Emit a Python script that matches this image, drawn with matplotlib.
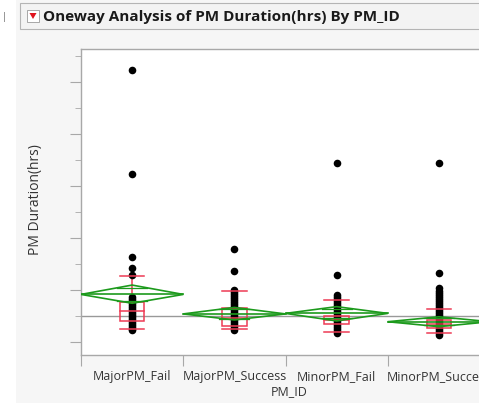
import matplotlib
matplotlib.use("Agg")
import matplotlib.pyplot as plt
from matplotlib.patches import Rectangle, Polygon
import numpy as np

plt.rcParams['font.family'] = ['Open Sans', 'DejaVu Sans']

categories = ["MajorPM_Fail", "MajorPM_Success", "MinorPM_Fail", "MinorPM_Success"]

major_fail = [10.46, 6.46, 3.27, 2.85, 2.58, 1.74, 1.66, 1.58, 1.50, 1.42, 1.35, 1.27,
              1.19, 1.12, 1.04, 0.96, 0.88, 0.81, 0.73, 0.65, 0.58, 0.50, 0.46]
major_success = [3.58, 2.74, 2.00, 1.92, 1.85, 1.77, 1.69, 1.62, 1.54, 1.46, 1.38, 1.31,
                 1.23, 1.15, 1.08, 1.00, 0.92, 0.85, 0.77, 0.69, 0.62, 0.54, 0.46]
minor_fail = [6.90, 2.56, 1.81, 1.73, 1.65, 1.58, 1.50, 1.42, 1.35, 1.27, 1.19, 1.12,
              1.04, 0.96, 0.88, 0.81, 0.73, 0.65, 0.58, 0.50, 0.42, 0.35]
minor_success = [6.88, 2.65, 2.08, 1.96, 1.88, 1.81, 1.73, 1.65, 1.58, 1.50, 1.42, 1.35,
                 1.27, 1.19, 1.12, 1.04, 0.96, 0.88, 0.81, 0.73, 0.65, 0.58, 0.50,
                 0.42, 0.35, 0.27]
group_points = [major_fail, major_success, minor_fail, minor_success]

box_q1 = [0.82, 0.63, 0.68, 0.55]
box_med = [1.20, 0.92, 0.85, 0.69]
box_q3 = [1.55, 1.32, 1.01, 0.85]
whisk_lo = [0.49, 0.49, 0.37, 0.33]
whisk_hi = [2.55, 1.96, 1.62, 1.27]
means = [1.83, 1.08, 1.10, 0.78]
ci_lo = [1.49, 0.85, 0.81, 0.59]
ci_hi = [2.19, 1.33, 1.36, 0.97]
grand_mean = 1.0

W, H = 479, 403
fig = plt.figure(figsize=(W / 100, H / 100), dpi=100)
fig.patch.set_facecolor('#f6f6f6')
# white strip on the far left
fig.add_artist(Rectangle((0, 0), 16 / W, 1, transform=fig.transFigure,
                         facecolor='white', edgecolor='none', zorder=0))
# title bar
fig.add_artist(Rectangle((20 / W, 1 - 29 / H), 470 / W, 26 / H, transform=fig.transFigure,
                         facecolor='#f3f3f3', edgecolor='#b4b4b4', lw=0.8, zorder=1))
fig.add_artist(Rectangle((27 / W, 1 - 22 / H), 12 / W, 12 / H, transform=fig.transFigure,
                         facecolor='white', edgecolor='#9a9a9a', lw=0.6, zorder=2))
fig.add_artist(Polygon([[29.5 / W, 1 - 13 / H], [36.5 / W, 1 - 13 / H], [33 / W, 1 - 19 / H]],
                       closed=True, transform=fig.transFigure, facecolor='#e0141e',
                       edgecolor='none', zorder=3))
fig.text(43 / W, 1 - 16.5 / H, "Oneway Analysis of PM Duration(hrs) By PM_ID",
         fontsize=11, fontweight='bold', color='#1a1a1a', va='center', ha='left')
fig.add_artist(Rectangle((4 / W, 1 - 22 / H), 1.2 / W, 10 / H, transform=fig.transFigure,
                         facecolor='#999999', edgecolor='none', zorder=2))

left, right, top, bottom = 81, 490, 49, 355
ax = fig.add_axes([left / W, 1 - bottom / H, (right - left) / W, (bottom - top) / H])
ax.set_facecolor('white')
ax.set_xlim(-0.5, 3.5)
ax.set_ylim(-0.5, 11.27)

gray = '#a8a8a8'
for s in ['left', 'bottom', 'top']:
    ax.spines[s].set_color(gray)
    ax.spines[s].set_linewidth(1.0)
ax.spines['right'].set_visible(False)

ax.set_yticks(np.arange(0, 11, 2))
ax.set_yticks(np.arange(1, 12, 2), minor=True)
ax.tick_params(axis='y', which='major', length=8, color=gray, labelleft=False)
ax.tick_params(axis='y', which='minor', length=4, color=gray)

ax.set_xticks([-0.5, 0.5, 1.5, 2.5])
ax.set_xticks(range(len(categories)), minor=True)
ax.set_xticklabels(categories, minor=True)
ax.tick_params(axis='x', which='major', length=8, color=gray, labelbottom=False)
ax.tick_params(axis='x', which='minor', length=0, pad=11, labelsize=9, labelcolor='#333333')

ax.axhline(grand_mean, color='#999999', lw=1.0, zorder=1)

red = '#ee3b55'
green = '#1c9a1c'
bw = 0.24
for i, pts in enumerate(group_points):
    ax.scatter([i] * len(pts), pts, s=30, color='black', zorder=3, linewidths=0)
    # box
    ax.add_patch(Rectangle((i - bw / 2, box_q1[i]), bw, box_q3[i] - box_q1[i],
                           facecolor='none', edgecolor=red, lw=1.1, zorder=4))
    ax.plot([i - bw / 2, i + bw / 2], [box_med[i]] * 2, color=red, lw=1.1, zorder=4)
    ax.plot([i, i], [whisk_hi[i], box_q3[i]], color=red, lw=1.1, zorder=2.5)
    ax.plot([i, i], [box_q1[i], whisk_lo[i]], color=red, lw=1.1, zorder=2.5)
    ax.plot([i - bw / 2, i + bw / 2], [whisk_hi[i]] * 2, color=red, lw=1.1, zorder=4)
    ax.plot([i - bw / 2, i + bw / 2], [whisk_lo[i]] * 2, color=red, lw=1.1, zorder=4)
    # mean diamond
    ax.add_patch(Polygon([[i - 0.5, means[i]], [i, ci_hi[i]], [i + 0.5, means[i]], [i, ci_lo[i]]],
                         closed=True, facecolor='none', edgecolor=green, lw=1.2, zorder=5))
    ax.plot([i - 0.5, i + 0.5], [means[i]] * 2, color=green, lw=1.2, zorder=5)
    half = (ci_hi[i] - means[i]) / np.sqrt(2)
    wdt = 0.5 * (1 - 1 / np.sqrt(2))
    ax.plot([i - wdt, i + wdt], [means[i] + half] * 2, color=green, lw=0.9, zorder=5)
    ax.plot([i - wdt, i + wdt], [means[i] - half] * 2, color=green, lw=0.9, zorder=5)

fig.text(35.5 / W, 1 - 200 / H, "PM Duration(hrs)", fontsize=10, color='#333333',
         rotation=90, ha='center', va='center')
fig.text(289 / W, 1 - 392 / H, "PM_ID", fontsize=9, color='#333333', ha='center', va='center')

fig.savefig("out.png", dpi=100, facecolor=fig.get_facecolor())
